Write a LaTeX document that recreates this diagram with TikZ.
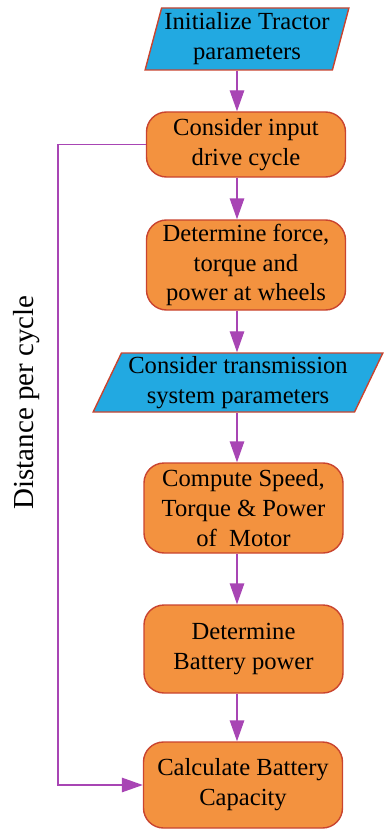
\documentclass[tikz,border=0pt]{standalone}
\usepackage{fontspec}
\setmainfont{Liberation Serif}
\usepackage{tikz}
\usetikzlibrary{arrows.meta,positioning,shapes.geometric,calc}
\definecolor{ParamBlue}{HTML}{22A9E1}
\definecolor{StepOrange}{HTML}{F3923F}
\definecolor{EdgeRed}{HTML}{C9442F}
\definecolor{FlowPurple}{HTML}{A845B4}

\begin{document}
\begin{tikzpicture}[
          stepbox/.style={rectangle, rounded corners=0.4cm, draw=EdgeRed, line width=0.8pt, fill=StepOrange, minimum width=3.98cm, inner sep=0pt, align=center, font=\fontsize{14}{17}\selectfont},
          parambox/.style={trapezium, trapezium stretches=true, draw=EdgeRed, line width=0.8pt, fill=ParamBlue, inner sep=0pt, align=center, font=\fontsize{14}{17}\selectfont},
          flow/.style={draw=FlowPurple, line width=0.8pt, -{Triangle[length=0.42cm, width=0.29cm]}}
        ]
          \useasboundingbox (0,0) rectangle (7.7,-16.6);
          \coordinate (axis) at (4.74,0);
          \coordinate (loop) at (1.16,0);
          % steps
          \node[parambox, trapezium left angle=73, trapezium right angle=107, minimum width=4.08cm, minimum height=1.24cm] (init) at (4.94,-0.78) {Initialize Tractor\\parameters};
          \node[stepbox, minimum height=1.30cm] (cycle) at (4.92,-2.89) {Consider input\\drive cycle};
          \node[stepbox, minimum height=1.80cm] (wheel) at (4.92,-5.30) {Determine force,\\torque and\\power at wheels};
          \node[parambox, trapezium left angle=63, trapezium right angle=117, minimum width=5.80cm, minimum height=1.18cm] (trans) at (4.76,-7.65) {Consider transmission\\system parameters};
          \node[stepbox, minimum height=1.80cm] (motor) at (4.87,-10.16) {Compute Speed,\\Torque \& Power\\of\ \ Motor};
          \node[stepbox, minimum height=1.76cm] (power) at (4.87,-12.98) {Determine\\Battery power};
          \node[stepbox, minimum height=1.72cm] (capacity) at (4.86,-15.70) {Calculate Battery\\Capacity};
          % arrows
          \draw[flow] (init.south -| axis) -- (cycle.north -| axis);
          \draw[flow] (cycle.south -| axis) -- (wheel.north -| axis);
          \draw[flow] (wheel.south -| axis) -- (trans.north -| axis);
          \draw[flow] (trans.south -| axis) -- (motor.north -| axis);
          \draw[flow] (motor.south -| axis) -- (power.north -| axis);
          \draw[flow] (power.south -| axis) -- (capacity.north -| axis);
          % feedback
          \draw[flow] (cycle.west) -- (cycle.west -| loop) -- (capacity.west -| loop) -- (capacity.west);
          \node[rotate=90, font=\fontsize{16.5}{20}\selectfont] (dist) at (0.54,-8.05) {Distance per cycle};
        \end{tikzpicture}
\end{document}
